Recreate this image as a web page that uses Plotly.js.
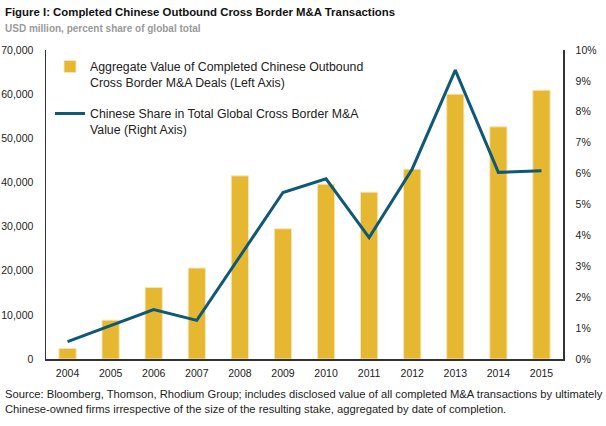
<!DOCTYPE html>
<html>
<head>
<meta charset="utf-8">
<script src="https://cdn.plot.ly/plotly-3.0.1.min.js"></script>
<style>html,body{margin:0;padding:0;background:#fff;}#chart{width:606px;height:426px;}</style>
</head>
<body>
<div id="chart"></div>
<script>
const years = ['2004','2005','2006','2007','2008','2009','2010','2011','2012','2013','2014','2015'];
const dealValue = [2400, 8800, 16200, 20600, 41500, 29500, 39600, 37800, 43000, 60000, 52600, 60900];
const globalShare = [0.56, 1.08, 1.6, 1.25, 3.31, 5.39, 5.83, 3.93, 6.15, 9.35, 6.04, 6.09];
const leftTicks = [0, 10000, 20000, 30000, 40000, 50000, 60000, 70000];
const rightTicks = [0, 1, 2, 3, 4, 5, 6, 7, 8, 9, 10];
const rightTickText = ['0%', '1%', '2%', '3%', '4%', '5%', '6%', '7%', '8%', '9%', '10%'];

const FONT = 'Liberation Sans, Arial, sans-serif';
const W = 606, H = 426, L = 46, R = 43, T = 50, B = 67;
const pw = W - L - R, ph = H - T - B;
const px = x => (x - L) / pw;
const py = y => (H - B - y) / ph;

const traces = [
  {
    type: 'bar', x: years, y: dealValue, yaxis: 'y', legendgroup: 'a',
    name: 'Aggregate Value of Completed Chinese Outbound<br>Cross Border M&A Deals (Left Axis)',
    marker: {color: '#E6B731', line: {color: '#F6E6B8', width: 1}},
    width: 0.4, hoverinfo: 'skip'
  },
  {
    type: 'scatter', mode: 'lines', x: years, y: globalShare, yaxis: 'y2', legendgroup: 'b',
    name: 'Chinese Share in Total Global Cross Border M&A<br>Value (Right Axis)',
    line: {color: '#0E5878', width: 3}, hoverinfo: 'skip'
  }
];

const tf = {family: FONT, size: 10.5, color: '#222'};
const layout = {
  width: W, height: H,
  margin: {l: L, r: R, t: T, b: B, pad: 0},
  paper_bgcolor: '#fff', plot_bgcolor: '#fff',
  font: {family: FONT, size: 11, color: '#222'},
  showlegend: true,
  legend: {x: px(50), y: py(52), xanchor: 'left', yanchor: 'top', valign: 'top',
           font: {family: FONT, size: 12.3, color: '#222'}, bgcolor: 'rgba(0,0,0,0)', tracegroupgap: 12},
  xaxis: {type: 'category', range: [-0.5, 11.5], showline: true, linecolor: '#333', linewidth: 1.5,
          ticks: '', showgrid: false, zeroline: false, tickfont: tf, ticklabelstandoff: 4},
  yaxis: {range: [0, 70000], tickvals: leftTicks, tickformat: ',d', showline: true, linecolor: '#333', linewidth: 1.5,
          ticks: '', showgrid: false, zeroline: false, tickfont: tf, ticklabelstandoff: 9},
  yaxis2: {range: [0, 10], tickvals: rightTicks, ticktext: rightTickText, overlaying: 'y', side: 'right', showline: true,
           linecolor: '#333', linewidth: 1.5, ticks: '', showgrid: false, zeroline: false,
           tickfont: tf, ticklabelstandoff: 9},
  annotations: [
    {xref: 'paper', yref: 'paper', x: px(3), y: py(4), xanchor: 'left', yanchor: 'top', showarrow: false,
     text: '<b>Figure I: Completed Chinese Outbound Cross Border M&A Transactions</b>',
     font: {family: FONT, size: 11.4, color: '#111'}},
    {xref: 'paper', yref: 'paper', x: px(3), y: py(21), xanchor: 'left', yanchor: 'top', showarrow: false,
     text: '<b>USD million, percent share of global total</b>',
     font: {family: FONT, size: 10, color: '#9A9A9A'}},
    {xref: 'paper', yref: 'paper', x: px(3), y: py(386), xanchor: 'left', yanchor: 'top', showarrow: false, align: 'left',
     text: 'Source: Bloomberg, Thomson, Rhodium Group; includes disclosed value of all completed M&A transactions by ultimately<br>Chinese-owned firms irrespective of the size of the resulting stake, aggregated by date of completion.',
     font: {family: FONT, size: 11.2, color: '#222'}}
  ]
};

Plotly.newPlot('chart', traces, layout, {displayModeBar: false, staticPlot: true});
</script>
</body>
</html>
